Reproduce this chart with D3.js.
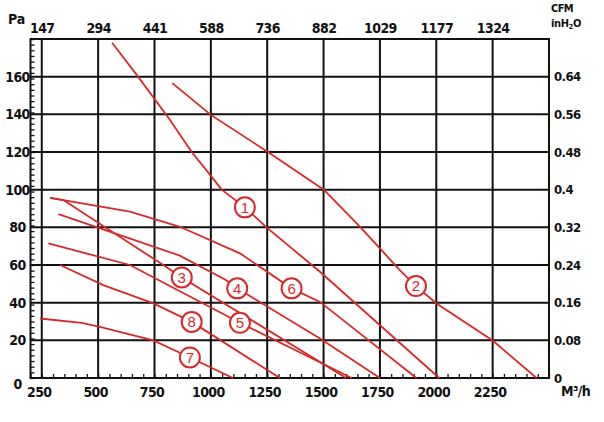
<!DOCTYPE html>
<html>
<head>
<meta charset="utf-8">
<script src="https://cdn.jsdelivr.net/npm/d3@7"></script>
<style>
  body { margin: 0; background: #fff; }
  svg text { font-family: "Liberation Sans Narrow", "DejaVu Sans Condensed", sans-serif; font-weight: bold; fill: #111; }
  .axis path.domain { display: none; }
  .minor line { stroke: #111; stroke-width: 1.3; }
  .mark text { font-family: "Liberation Sans", sans-serif; font-weight: normal; fill: #d8282a; }
</style>
</head>
<body>
<div class="chart"></div>
<script>
var w = 604,
  h = 422,
  red = '#d8282a';

// flow in m3/h on the bottom, same gridlines in CFM on top
var flowTicks = [250, 500, 750, 1000, 1250, 1500, 1750, 2000, 2250];
var cfmLabels = ['147', '294', '441', '588', '736', '882', '1029', '1177', '1324'];
// pressure in Pa on the left, inH2O on the right
var paTicks = [0, 20, 40, 60, 80, 100, 120, 140, 160];
var inH2OLabels = ['0', '0.08', '0.16', '0.24', '0.32', '0.4', '0.48', '0.56', '0.64'];

// curves, [m3/h, Pa]
var curve1 = [[562, 178], [677, 160], [819, 137], [915, 120], [996, 108], [1048, 100], [1151, 90.6], [1247, 80], [1448, 60], [1484, 56.4], [2013, 0]];
var curve2 = [[829, 156.6], [1000, 139.7], [1253, 120], [1501, 100], [1662, 80.3], [1750, 68.8], [1838, 57.3], [1910, 48.8], [2001, 39.6], [2250, 19.9], [2445, 0]];
var curve3 = [[287, 95.7], [346, 94.5], [538, 79.5], [789, 60], [871, 53.4], [1600, 0]];
var curve4 = [[324, 87], [862, 65], [1063, 52.3], [1117, 47.6], [1484, 21], [1750, 0]];
var curve5 = [[279, 71.5], [641, 60], [1129, 29.3], [1625, 0]];
var curve6 = [[287, 95.7], [641, 88.3], [863, 80.3], [1129, 66.2], [1358, 47.6], [1484, 40.4], [1912, 0]];
var curve7 = [[242, 31.6], [427, 29.3], [508, 27.1], [745, 20], [907, 10.9], [1098, 0]];
var curve8 = [[331, 60], [523, 49.3], [745, 39.6], [915, 29.8], [1306, 0]];
var curves = [curve1, curve2, curve3, curve4, curve5, curve6, curve7, curve8];

// numbered markers
var markNames = ['1', '2', '3', '4', '5', '6', '7', '8'];
var markPos = [[1151, 90.6], [1910, 48.8], [871, 53.4], [1117, 47.6], [1129, 29.3], [1358, 47.6], [907, 10.9], [915, 29.8]];

var x = d3.scaleLinear().domain([200, 2500]).range([30.5, 549]);
var y = d3.scaleLinear().domain([0, 180]).range([378, 39]);

var svg = d3.select('.chart')
  .append('svg')
  .attr('width', w)
  .attr('height', h);

// grid
svg.append('g')
  .selectAll('line')
  .data(flowTicks)
  .enter()
  .append('line')
  .attr('x1', function (d) { return x(d); })
  .attr('x2', function (d) { return x(d); })
  .attr('y1', y(0))
  .attr('y2', y(180))
  .attr('stroke', '#111')
  .attr('stroke-width', 2);

svg.append('g')
  .selectAll('line')
  .data(paTicks.slice(1))
  .enter()
  .append('line')
  .attr('x1', x(200))
  .attr('x2', x(2500))
  .attr('y1', function (d) { return y(d); })
  .attr('y2', function (d) { return y(d); })
  .attr('stroke', '#111')
  .attr('stroke-width', 2);

// minor ticks
svg.append('g')
  .attr('class', 'minor axis')
  .attr('transform', 'translate(0,' + y(0) + ')')
  .call(d3.axisBottom(x).tickValues(d3.range(200, 2501, 50)).tickSize(-4).tickFormat(''));

svg.append('g')
  .attr('class', 'minor axis')
  .attr('transform', 'translate(' + x(200) + ',0)')
  .call(d3.axisLeft(y).tickValues(d3.range(0, 181, 3)).tickSize(-4).tickFormat(''));

// frame
svg.append('rect')
  .attr('x', x(200))
  .attr('y', y(180))
  .attr('width', x(2500) - x(200))
  .attr('height', y(0) - y(180))
  .attr('fill', 'none')
  .attr('stroke', '#111')
  .attr('stroke-width', 2);

// tick labels
var bottomAxis = svg.append('g')
  .attr('class', 'axis')
  .attr('transform', 'translate(0,' + y(0) + ')')
  .call(d3.axisBottom(x).tickValues(flowTicks).tickSize(0).tickPadding(9).tickFormat(d3.format('d')));
bottomAxis.selectAll('text').attr('font-size', 14).attr('dx', -3).attr('letter-spacing', -0.6);

var topAxis = svg.append('g')
  .attr('class', 'axis')
  .attr('transform', 'translate(0,' + y(180) + ')')
  .call(d3.axisTop(x).tickValues(flowTicks).tickSize(0).tickPadding(6)
    .tickFormat(function (d, i) { return cfmLabels[i]; }));
topAxis.selectAll('text').attr('font-size', 14).attr('letter-spacing', -0.6);

var leftAxis = svg.append('g')
  .attr('class', 'axis')
  .attr('transform', 'translate(' + x(200) + ',0)')
  .call(d3.axisLeft(y).tickValues(paTicks).tickSize(0));
leftAxis.selectAll('text')
  .attr('font-size', 14)
  .attr('letter-spacing', -0.6)
  .attr('text-anchor', 'middle')
  .attr('x', -13)
  .attr('dy', function (d) { return d === 0 ? '0.75em' : '0.32em'; });

var rightAxis = svg.append('g')
  .attr('class', 'axis')
  .attr('transform', 'translate(' + x(2500) + ',0)')
  .call(d3.axisRight(y).tickValues(paTicks).tickSize(0).tickPadding(5)
    .tickFormat(function (d, i) { return inH2OLabels[i]; }));
rightAxis.selectAll('text').attr('font-size', 13).attr('letter-spacing', -0.6);

// unit labels
svg.append('text').attr('x', 8).attr('y', 24).attr('font-size', 14).text('Pa');
svg.append('text').attr('x', 551).attr('y', 12).attr('font-size', 11).attr('letter-spacing', -0.6).text('CFM');
var inh = svg.append('text').attr('x', 551).attr('y', 27).attr('font-size', 11).attr('letter-spacing', -0.3);
inh.append('tspan').text('inH');
inh.append('tspan').attr('font-size', 7).attr('dy', 2).text('2');
inh.append('tspan').attr('dy', -2).text('O');
svg.append('text').attr('x', 561).attr('y', 396).attr('font-size', 14).attr('letter-spacing', -0.6).text('M³/h');

// curves
var line = d3.line()
  .x(function (d) { return x(d[0]); })
  .y(function (d) { return y(d[1]); });

svg.append('g')
  .selectAll('path')
  .data(curves)
  .enter()
  .append('path')
  .attr('d', line)
  .attr('fill', 'none')
  .attr('stroke', red)
  .attr('stroke-width', 1.8);

// markers
var marks = svg.append('g')
  .attr('class', 'mark')
  .selectAll('g')
  .data(markPos)
  .enter()
  .append('g')
  .attr('transform', function (d) { return 'translate(' + x(d[0]) + ',' + y(d[1]) + ')'; });

marks.append('circle')
  .attr('r', 10)
  .attr('fill', '#fff')
  .attr('stroke', red)
  .attr('stroke-width', 2);

marks.append('text')
  .attr('text-anchor', 'middle')
  .attr('dy', '0.36em')
  .attr('font-size', 15)
  .text(function (d, i) { return markNames[i]; });
</script>
</body>
</html>
